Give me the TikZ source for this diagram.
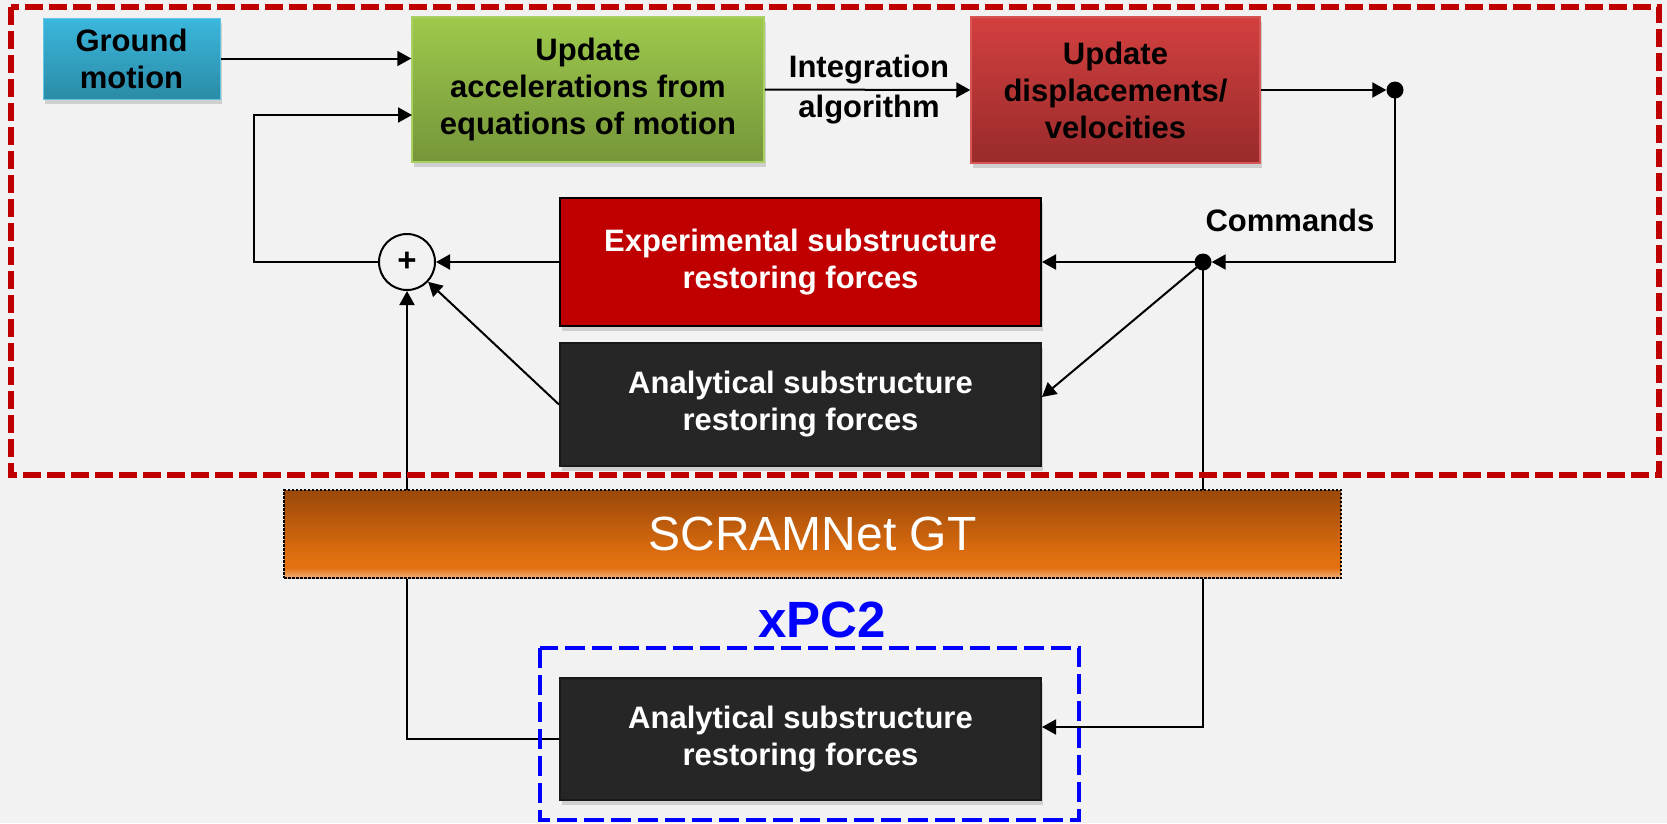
\documentclass[tikz,border=0pt]{standalone}
\usepackage{fontspec}
\setmainfont{Liberation Sans}
\usetikzlibrary{arrows.meta,shadows,calc}
\definecolor{bg}{HTML}{F2F2F2}
\definecolor{frame}{HTML}{C00000}
\definecolor{bluetop}{HTML}{3BB7DD}
\definecolor{bluebot}{HTML}{2A8BA6}
\definecolor{greentop}{HTML}{9DC94C}
\definecolor{greenbot}{HTML}{76953A}
\definecolor{greenline}{HTML}{A9D062}
\definecolor{redtop}{HTML}{D2403F}
\definecolor{redbot}{HTML}{992A2B}
\definecolor{redline}{HTML}{D85555}
\definecolor{expred}{HTML}{C00000}
\definecolor{anagray}{HTML}{262626}
\definecolor{xpcblue}{HTML}{0000FF}
\definecolor{brwn}{HTML}{9A480A}
\definecolor{orng}{HTML}{E2700F}
\definecolor{peach}{HTML}{F3B07A}
\pgfdeclareverticalshading{scramshade}{100bp}{color(0bp)=(peach); color(25bp)=(peach); color(31bp)=(orng); color(36bp)=(orng); color(75bp)=(brwn); color(100bp)=(brwn)}
\begin{document}
\begin{tikzpicture}[x=1pt,y=-1pt,
  txt/.style={font=\bfseries\fontsize{31}{37}\selectfont, align=center},
  boxbase/.style={rectangle, inner sep=0pt, align=center, font=\bfseries\fontsize{31}{37}\selectfont,
    drop shadow={shadow xshift=2pt, shadow yshift=-5pt, opacity=0.3}},
  groundbox/.style={boxbase, top color=bluetop, bottom color=bluebot, draw=bluetop!80!white, line width=1pt, minimum width=177pt, minimum height=81pt},
  greenbox/.style={boxbase, top color=greentop, bottom color=greenbot, draw=greenline, line width=1.5pt, minimum width=352pt, minimum height=145pt},
  dispbox/.style={boxbase, top color=redtop, bottom color=redbot, draw=redline, line width=1.5pt, minimum width=289pt, minimum height=146pt},
  expbox/.style={boxbase, fill=expred, draw=black, line width=2pt, text=white, minimum width=481pt, minimum height=128pt},
  anabox/.style={boxbase, fill=anagray, draw=black!90, line width=2pt, text=white, minimum width=481pt, minimum height=123pt},
  sumnode/.style={circle, draw=black, line width=2pt, fill=bg, minimum size=56pt, inner sep=0pt, font=\bfseries\fontsize{33}{33}\selectfont},
  dotnode/.style={circle, fill=black, minimum size=17pt, inner sep=0pt},
  conn/.style={line width=2pt, draw=black},
  arr/.style={conn, -{Triangle[length=14pt,width=15pt]}},
  scrambar/.style={rectangle, shading=scramshade, draw=black, line width=1.2pt, dash pattern=on 2.5pt off 1.5pt,
    minimum width=1057pt, minimum height=88pt, text=white, font=\fontsize{48}{48}\selectfont},
  redframe/.style={draw=frame, line width=6pt, dash pattern=on 18pt off 6pt},
  blueframe/.style={draw=xpcblue, line width=4pt, dash pattern=on 20pt off 7pt}
]
\useasboundingbox (0,0) rectangle (1667,823);
\fill[bg] (0,0) rectangle (1667,823);

% nodes
\node[groundbox] (ground) at (131.5,58.5) {Ground\\motion};
\node[greenbox] (accel) at (588,89.5) {Update\\accelerations from\\equations of motion};
\node[dispbox] (disp) at (1115.5,90) {Update\\displacements/\\velocities};
\node[expbox] (exp) at (800.5,262) {Experimental substructure\\restoring forces};
\node[anabox] (ana1) at (800.5,404.5) {Analytical substructure\\restoring forces};
\node[anabox, minimum height=122pt] (ana2) at (800.5,739) {Analytical substructure\\restoring forces};
\node[sumnode] (sum) at (407,262) {+};
\node[dotnode] (dot1) at (1395,90) {};
\node[dotnode] (dot2) at (1203,262) {};
\node[txt] (integ) at (869,90) {Integration\\[3pt]algorithm};
\node[txt] (cmd) at (1290,220) {Commands};
\node[font=\bfseries\fontsize{51}{51}\selectfont, text=xpcblue] (xpc) at (822,620) {xPC2};

\coordinate (fbL) at (254,262);
\coordinate (accIn2) at (412,115);

% connectors
\draw[arr] (ground.east) -- (ground.east -| accel.west);
\draw[arr] (sum.west) -- (fbL) |- (accIn2);
\draw[arr] (accel.east) -- (disp.west);
\draw[arr] (disp.east) -- (dot1.west);
\draw[arr] (dot1.center) |- (dot2.east);
\draw[arr] (dot2.center) -- (exp.east);
\draw[arr] (dot2.center) -- ($(ana1.east)+(0,-7.5)$);
\draw[arr] (exp.west) -- (sum.east);
\draw[arr] (ana1.west) -- (sum);
\draw[arr] (ana2.west) -| (sum.south);
\draw[arr] (dot2.center) |- ($(ana2.east)+(0,-12)$);

% frames
\draw[redframe] (11,7) rectangle (1659,475);
\draw[blueframe] (540,648) rectangle (1079,820);

% SCRAMNet bar on top of the lines
\node[scrambar] (scram) at (812.5,534) {SCRAMNet GT};
\end{tikzpicture}
\end{document}
